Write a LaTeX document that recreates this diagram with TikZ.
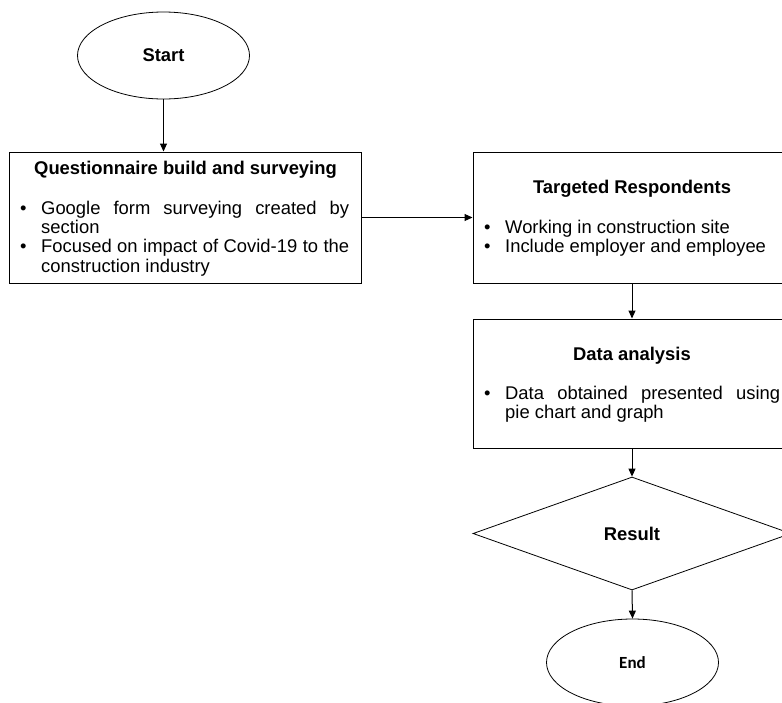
\documentclass[tikz,border=0pt]{standalone}
\usepackage{fontspec}
\setmainfont{Liberation Sans}
\newfontfamily\carlito{Carlito}
\usetikzlibrary{shapes.geometric,arrows.meta}
\hyphenpenalty=10000
\exhyphenpenalty=10000

\newcommand{\bulletitem}[1]{\noindent\hangindent=21pt\hangafter=1\makebox[21pt][l]{\textbullet}#1\par}

\begin{document}
\begin{tikzpicture}[x=1pt,y=-1pt,
  font=\fontsize{18.4}{19.4}\selectfont,
  stepbox/.style={draw,line width=1pt,inner sep=0pt},
  oval/.style={draw,ellipse,line width=0.8pt,minimum width=172pt,minimum height=87pt,inner sep=0pt},
  boxtitle/.style={anchor=base,inner sep=0pt,font=\fontsize{18.4}{19.4}\selectfont\bfseries},
  boxbody/.style={anchor=base west,inner sep=0pt,align=justify,text width=#1},
  flowarrow/.style={-{Triangle[length=8pt,width=7pt]},line width=1pt}]
\useasboundingbox (0,0) rectangle (782,702);
\clip (0,0) rectangle (782,702);

% start and questionnaire
\node [oval,font=\fontsize{18.4}{19.4}\selectfont\bfseries] (start) at (163.5,55.5) {Start};
\node [stepbox,minimum width=352pt,minimum height=131pt] (quest) at (185.5,217.5) {};
\node [boxtitle] (questtitle) at (185.5,174) {Questionnaire build and surveying};
\node [boxbody=329pt] (questtext) at (20,214) {%
  \bulletitem{Google form surveying created by section}
  \bulletitem{Focused on impact of Covid-19 to the construction industry}};

% respondents and analysis
\node [stepbox,minimum width=318pt,minimum height=131pt] (target) at (632,217.5) {};
\node [boxtitle] (targettitle) at (632,193.5) {Targeted Respondents};
\node [boxbody=296pt] (targettext) at (484,233) {%
  \bulletitem{Working in construction site}
  \bulletitem{Include employer and employee}};

\node [stepbox,minimum width=318pt,minimum height=129pt] (data) at (632,383.5) {};
\node [boxtitle] (datatitle) at (632,360) {Data analysis};
\node [boxbody=296pt] (datatext) at (484,399) {%
  \bulletitem{Data obtained presented using\linebreak pie chart and graph}};

% result and end
\node [draw,diamond,line width=0.8pt,inner sep=0pt,minimum width=318pt,minimum height=113pt,
  font=\fontsize{18.4}{19.4}\selectfont\bfseries] (result) at (632,533.5) {Result};
\node [oval,font=\fontsize{17}{19}\selectfont\carlito\bfseries] (end) at (632.5,662.5) {End};

\draw [flowarrow] (start.south) -- (start.south |- quest.north);
\draw [flowarrow] (quest.east) -- (target.west);
\draw [flowarrow] (target.south) -- (data.north);
\draw [flowarrow] (data.south) -- (result.north);
\draw [flowarrow] (result.south) -- (end.north);

\end{tikzpicture}
\end{document}
